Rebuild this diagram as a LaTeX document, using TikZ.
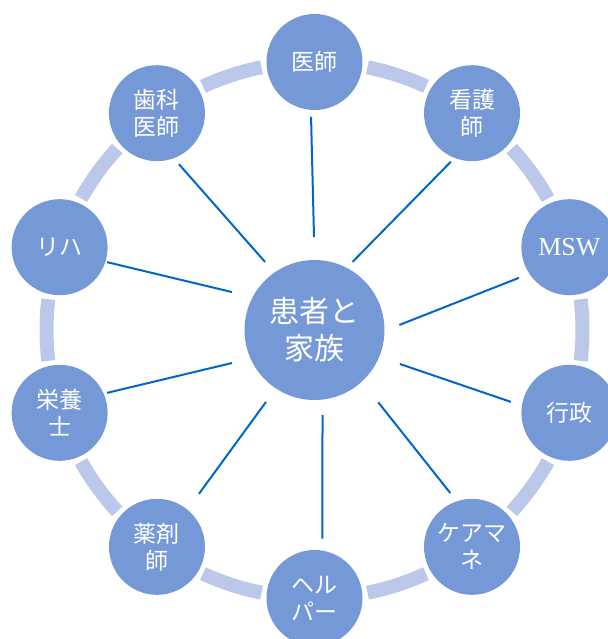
\documentclass[tikz,border=0pt]{standalone}
\usepackage{fontspec}
\setmainfont{Liberation Serif}
\newfontfamily\jpfont{Noto Sans CJK JP}
\usepackage{tikz}
\usetikzlibrary{calc}
\definecolor{nodeblue}{HTML}{7598D6}
\definecolor{ringblue}{HTML}{BBC8E9}
\definecolor{lineblue}{HTML}{0066CC}

\tikzset{
  member/.style={circle, fill=nodeblue, text=white, minimum size=48pt, inner sep=0pt,
    align=center, font=\jpfont\fontsize{11.5}{13.5}\selectfont},
  center/.style={member, minimum size=70pt, font=\jpfont\fontsize{15}{18.5}\selectfont},
  ring/.style={draw=ringblue, line width=7pt},
  link/.style={draw=lineblue, line width=1pt}
}

\begin{document}
\begin{tikzpicture}[x=0.5pt, y=0.5pt]

  \useasboundingbox (-314.5,-309) rectangle (292.5,330);

  % Ring between the members
  \foreach \a in {90,54,...,-234}
    \draw[ring] ({\a-24.6}:268) arc[start angle=\a-24.6, end angle=\a-11.4, radius=268];

  % Centre
  \node[center] (kanja) at (0,0) {患者と\\家族};

  % Members
  \node[member] (ishi)     at (90:268)   {医師};
  \node[member] (kango)    at (54:268)   {看護\\師};
  \node[member, font=\rmfamily\fontsize{13}{15}\selectfont] (msw) at (18:268) {MSW};
  \node[member] (gyosei)   at (-18:268)  {行政};
  \node[member] (caremane) at (-54:268)  {ケアマ\\ネ};
  \node[member] (helper)   at (-90:268)  {ヘル\\パー};
  \node[member] (yakuzai)  at (-126:268) {薬剤\\師};
  \node[member] (eiyo)     at (-162:268) {栄養\\士};
  \node[member] (riha)     at (162:268)  {リハ};
  \node[member] (shika)    at (126:268)  {歯科\\医師};

  % Links to the centre
  \draw[link] ($(ishi)+(266.4:55)$)     -- ($(kanja)+(90.3:93)$);
  \draw[link] ($(kango)+(246.4:53)$)    -- ($(kanja)+(60.8:78)$);
  \draw[link] ($(msw)+(211.3:59)$)      -- ($(kanja)+(3.4:85)$);
  \draw[link] ($(gyosei)+(169.4:59.5)$) -- ($(kanja)+(-21.7:92)$);
  \draw[link] ($(caremane)+(112:58)$)   -- ($(kanja)+(-48.6:96.4)$);
  \draw[link] ($(helper)+(82.5:59.9)$)  -- ($(kanja)+(-84.6:85.4)$);
  \draw[link] ($(yakuzai)+(51.6:67.6)$) -- ($(kanja)+(236:86.8)$);
  \draw[link] ($(eiyo)+(22.8:51.5)$)    -- ($(kanja)+(201.8:88.9)$);
  \draw[link] ($(riha)+(-17.5:49.8)$)   -- ($(kanja)+(155.3:90.8)$);
  \draw[link] ($(shika)+(-66.7:55.5)$)  -- ($(kanja)+(126:84.1)$);

\end{tikzpicture}
\end{document}
